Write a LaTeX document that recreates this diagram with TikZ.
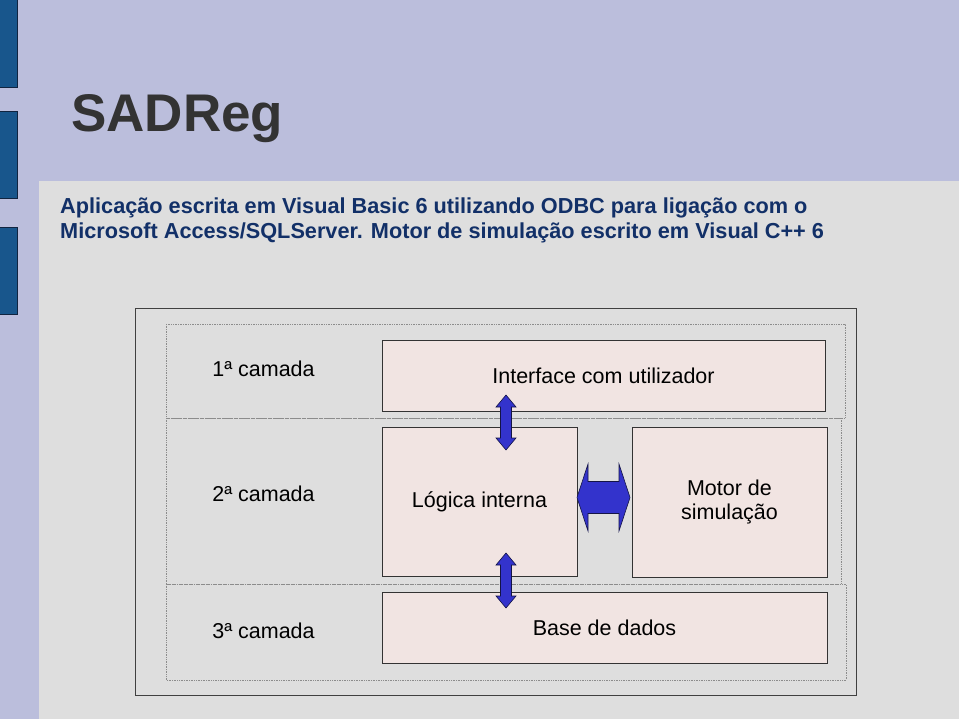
\documentclass[tikz,border=0pt]{standalone}
\usepackage{fontspec}
\setmainfont{Liberation Sans}
\definecolor{slidebg}{RGB}{187,190,220}
\definecolor{panelgray}{RGB}{222,222,222}
\definecolor{barblue}{RGB}{24,86,140}
\definecolor{barline}{RGB}{16,36,64}
\definecolor{titlegray}{RGB}{51,51,51}
\definecolor{textblue}{RGB}{18,48,104}
\definecolor{boxpink}{RGB}{241,228,226}
\definecolor{arrowblue}{RGB}{51,51,204}
\definecolor{arrowline}{RGB}{20,20,70}
\definecolor{layerline}{RGB}{140,140,140}

\begin{document}
\begin{tikzpicture}[x=1pt, y=-1pt,
    block/.style = {draw=black!80, fill=boxpink, line width=0.9pt, inner sep=0pt, align=center, font=\fontsize{21.5}{24}\selectfont},
    layer/.style = {draw=layerline, densely dotted, line width=0.7pt},
    tier/.style = {inner sep=0pt, anchor=base, font=\fontsize{21.5}{24}\selectfont},
    desc/.style = {inner sep=0pt, anchor=base west, text=textblue, font=\bfseries\fontsize{21.7}{25}\selectfont},
    link/.style = {draw=arrowline, fill=arrowblue, line width=0.6pt, line join=miter}]
    \useasboundingbox (0,0) rectangle (959,719);
    \fill[slidebg] (0,0) rectangle (959,719);

    \filldraw[fill=barblue, draw=barline, line width=0.8pt] (-2,-2) rectangle (17,87);
    \filldraw[fill=barblue, draw=barline, line width=0.8pt] (-2,111) rectangle (17,198);
    \filldraw[fill=barblue, draw=barline, line width=0.8pt] (-2,227) rectangle (17,314);
    \fill[panelgray] (39,181) rectangle (961,721);

    \node[inner sep=0pt, anchor=base west, text=titlegray, font=\bfseries\fontsize{53}{60}\selectfont] (title) at (71,132) {SADReg};
    \node[desc] (desc1) at (60,214) {Aplicação escrita em Visual Basic 6 utilizando ODBC para ligação com o};
    \node[desc] (desc2) at (60,239) {Microsoft Access/SQLServer. Motor de simulação escrito em Visual C++ 6};

    \draw[draw=black!75, line width=0.9pt] (135,308) rectangle (856,695);
    \draw[layer] (166,324) rectangle (845,418);
    \draw[layer] (166,418) rectangle (841,584);
    \draw[layer] (166,584) rectangle (846,680);

    \node[tier] (t1) at (263.5,377) {1ª camada};
    \node[tier] (t2) at (263.5,501) {2ª camada};
    \node[tier] (t3) at (263.5,638) {3ª camada};

    \node[block, minimum width=443pt, minimum height=71pt] (iface) at (603.5,375.5) {Interface com utilizador};
    \node[block, minimum width=195pt, minimum height=149pt] (logic) at (479.5,501.5) {Lógica interna};
    \node[block, minimum width=195pt, minimum height=150pt] (motor) at (729.5,502) {Motor de\\simulação};
    \node[block, minimum width=445pt, minimum height=71pt] (db) at (604.5,627.5) {Base de dados};

    \coordinate (a1) at (506,422.5);
    \coordinate (a2) at (506,580.5);
    \coordinate (a3) at (603.5,497.5);

    \draw[link, shift={(a1)}] (0,-27.5) -- (10,-15.5) -- (5.5,-15.5) -- (5.5,15.5) -- (10,15.5) -- (0,27.5)
        -- (-10,15.5) -- (-5.5,15.5) -- (-5.5,-15.5) -- (-10,-15.5) -- cycle;
    \draw[link, shift={(a2)}] (0,-27.5) -- (10,-15.5) -- (5.5,-15.5) -- (5.5,15.5) -- (10,15.5) -- (0,27.5)
        -- (-10,15.5) -- (-5.5,15.5) -- (-5.5,-15.5) -- (-10,-15.5) -- cycle;
    \draw[link, shift={(a3)}] (-26.5,0) -- (-15.5,-33.5) -- (-15.5,-16) -- (15.5,-16) -- (15.5,-33.5) -- (26.5,0)
        -- (15.5,33.5) -- (15.5,16) -- (-15.5,16) -- (-15.5,33.5) -- cycle;

\end{tikzpicture}
\end{document}
